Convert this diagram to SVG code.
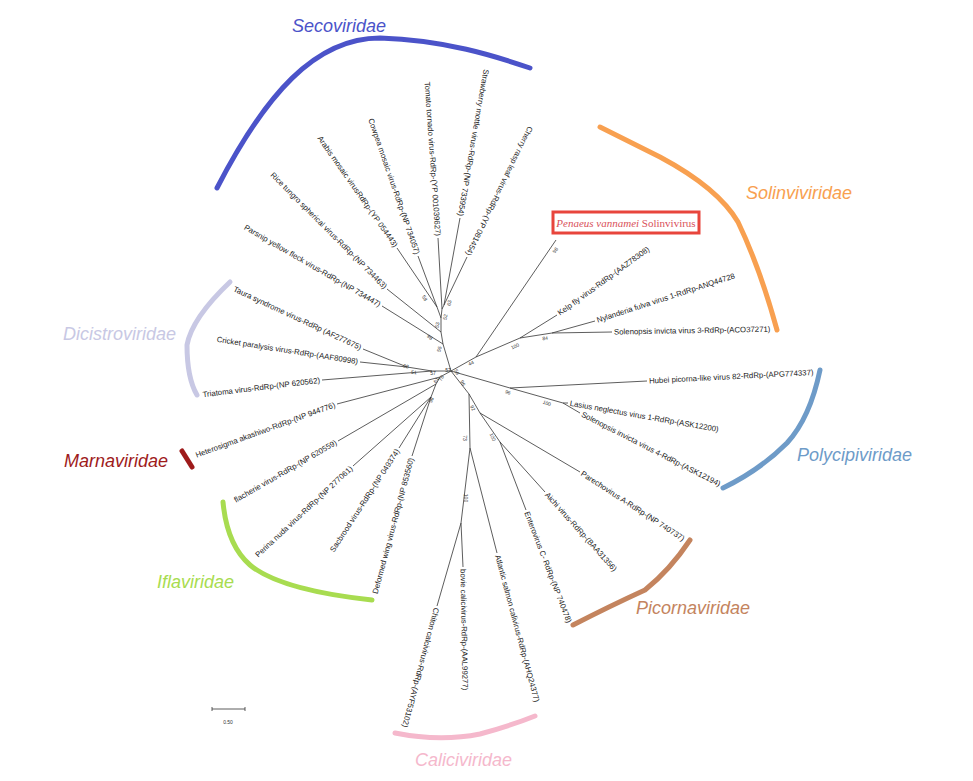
<svg xmlns="http://www.w3.org/2000/svg" width="973" height="781" viewBox="0 0 973 781">
<style>
.leaf{font-family:"Liberation Sans",Arial,sans-serif;font-size:7.8px;fill:#222;dominant-baseline:central}
.bs{font-family:"Liberation Sans",Arial,sans-serif;font-size:5px;fill:#333;text-anchor:middle;dominant-baseline:central}
.fam{font-family:"Liberation Sans",Arial,sans-serif;font-style:italic;font-size:18px}
.arc{fill:none;stroke-width:5;stroke-linecap:round;stroke-linejoin:round}
#connectors line{stroke:#333;stroke-width:0.8}
</style>
<rect width="973" height="781" fill="#fff"/>
<g id="connectors">
<line x1="451" y1="371" x2="443" y2="344"/>
<line x1="443" y1="344" x2="382" y2="306"/>
<line x1="443" y1="344" x2="441" y2="332"/>
<line x1="441" y1="332" x2="387" y2="289"/>
<line x1="441" y1="332" x2="441" y2="318"/>
<line x1="441" y1="318" x2="437" y2="307"/>
<line x1="437" y1="307" x2="397" y2="248"/>
<line x1="437" y1="307" x2="418" y2="256"/>
<line x1="441" y1="318" x2="442" y2="309"/>
<line x1="442" y1="309" x2="438" y2="238"/>
<line x1="442" y1="309" x2="444" y2="305"/>
<line x1="444" y1="305" x2="460" y2="218"/>
<line x1="444" y1="305" x2="467" y2="257"/>
<line x1="451" y1="371" x2="432" y2="371"/>
<line x1="432" y1="371" x2="322" y2="380"/>
<line x1="432" y1="371" x2="407" y2="367"/>
<line x1="407" y1="367" x2="363" y2="349"/>
<line x1="407" y1="367" x2="360" y2="362"/>
<line x1="451" y1="371" x2="440" y2="377"/>
<line x1="440" y1="377" x2="337" y2="404"/>
<line x1="440" y1="377" x2="436" y2="384"/>
<line x1="436" y1="384" x2="338" y2="441"/>
<line x1="436" y1="384" x2="431" y2="397"/>
<line x1="431" y1="397" x2="353" y2="466"/>
<line x1="431" y1="397" x2="399" y2="448"/>
<line x1="431" y1="397" x2="412" y2="456"/>
<line x1="451" y1="371" x2="476" y2="357"/>
<line x1="476" y1="357" x2="556" y2="240"/>
<line x1="476" y1="357" x2="520" y2="338"/>
<line x1="520" y1="338" x2="557" y2="315"/>
<line x1="520" y1="338" x2="552" y2="333"/>
<line x1="552" y1="333" x2="595" y2="321"/>
<line x1="552" y1="333" x2="612" y2="332"/>
<line x1="451" y1="371" x2="510" y2="388"/>
<line x1="510" y1="388" x2="647" y2="381"/>
<line x1="510" y1="388" x2="563" y2="403"/>
<line x1="563" y1="403" x2="568" y2="403"/>
<line x1="563" y1="403" x2="580" y2="413"/>
<line x1="451" y1="371" x2="469" y2="394"/>
<line x1="469" y1="394" x2="470" y2="448"/>
<line x1="469" y1="394" x2="480" y2="413"/>
<line x1="480" y1="413" x2="580" y2="472"/>
<line x1="480" y1="413" x2="500" y2="442"/>
<line x1="500" y1="442" x2="545" y2="492"/>
<line x1="500" y1="442" x2="526" y2="510"/>
<line x1="470" y1="448" x2="497" y2="553"/>
<line x1="470" y1="448" x2="461" y2="523"/>
<line x1="461" y1="523" x2="463" y2="567"/>
<line x1="461" y1="523" x2="437" y2="606"/>
</g>
<g id="bootstrap">
<text class="bs" transform="translate(425,298) rotate(55)">58</text>
<text class="bs" transform="translate(449,303) rotate(-80)">63</text>
<text class="bs" transform="translate(445,317) rotate(-80)">52</text>
<text class="bs" transform="translate(437,325) rotate(-80)">53</text>
<text class="bs" transform="translate(430,337) rotate(40)">98</text>
<text class="bs" transform="translate(439,349) rotate(-75)">55</text>
<text class="bs" transform="translate(406,366) rotate(10)">98</text>
<text class="bs" transform="translate(414,372) rotate(5)">51</text>
<text class="bs" transform="translate(433,373)">57</text>
<text class="bs" transform="translate(448,370)">57</text>
<text class="bs" transform="translate(457,372) rotate(60)">56</text>
<text class="bs" transform="translate(436,380) rotate(-60)">61</text>
<text class="bs" transform="translate(441,378) rotate(-60)">78</text>
<text class="bs" transform="translate(431,400) rotate(-65)">98</text>
<text class="bs" transform="translate(471,363) rotate(-25)">44</text>
<text class="bs" transform="translate(515,346) rotate(-25)">100</text>
<text class="bs" transform="translate(545,338) rotate(-5)">84</text>
<text class="bs" transform="translate(555,250) rotate(-55)">98</text>
<text class="bs" transform="translate(463,383) rotate(60)">96</text>
<text class="bs" transform="translate(473,408) rotate(65)">92</text>
<text class="bs" transform="translate(465,438) rotate(90)">73</text>
<text class="bs" transform="translate(493,437) rotate(65)">100</text>
<text class="bs" transform="translate(466,498) rotate(90)">100</text>
<text class="bs" transform="translate(508,392) rotate(20)">96</text>
<text class="bs" transform="translate(547,403) rotate(20)">100</text>
</g>
<g id="leaf-parsnip"><text class="leaf" text-anchor="end" transform="translate(380,305) rotate(30)">Parsnip yellow fleck virus-RdRp-(NP 734447)</text></g>
<g id="leaf-rice"><text class="leaf" text-anchor="end" transform="translate(385.6,287.6) rotate(45)">Rice tungro spherical virus-RdRp-(NP 734463)</text></g>
<g id="leaf-arabis"><text class="leaf" text-anchor="end" transform="translate(395.9,246.4) rotate(55)">Arabis mosaic virusRdRp-(YP 054443)</text></g>
<g id="leaf-cowpea"><text class="leaf" text-anchor="end" transform="translate(417.3,254.1) rotate(71)">Cowpea mosaic virus-RdRp-(NP 734057)</text></g>
<g id="leaf-tomato"><text class="leaf" text-anchor="end" transform="translate(437.9,236) rotate(86)">Tomato tornado virus-RdRp-(YP 001039627)</text></g>
<g id="leaf-strawberry"><text class="leaf" text-anchor="end" transform="translate(460.3,216) rotate(100)">Strawberry mottle virus-RdRp-(NP 733954)</text></g>
<g id="leaf-cherry"><text class="leaf" text-anchor="end" transform="translate(467.9,255.2) rotate(116)">Cherry rasp leaf virus-RdRp-(YP 081454)</text></g>
<g id="leaf-taura"><text class="leaf" text-anchor="end" transform="translate(361,348) rotate(25)">Taura syndrome virus-RdRp (AF277675)</text></g>
<g id="leaf-cricket"><text class="leaf" text-anchor="end" transform="translate(358,361.7) rotate(9)">Cricket paralysis virus-RdRp-(AAF80998)</text></g>
<g id="leaf-triatoma"><text class="leaf" text-anchor="end" transform="translate(320,380.3) rotate(-7)">Triatoma virus-RdRp-(NP 620562)</text></g>
<g id="leaf-heterosigma"><text class="leaf" text-anchor="end" transform="translate(335,404.7) rotate(-20)">Heterosigma akashiwo-RdRp-(NP 944776)</text></g>
<g id="leaf-flacherie"><text class="leaf" text-anchor="end" transform="translate(336.3,442) rotate(-30)">flacherie virus-RdRp-(NP 620559)</text></g>
<g id="leaf-perina"><text class="leaf" text-anchor="end" transform="translate(351.5,467.4) rotate(-43)">Perina nuda virus-RdRp-(NP 277061)</text></g>
<g id="leaf-sacbrood"><text class="leaf" text-anchor="end" transform="translate(397.9,449.7) rotate(-57)">Sacbrood virus-RdRp-(NP 049374)</text></g>
<g id="leaf-dwv"><text class="leaf" text-anchor="end" transform="translate(411.5,458) rotate(-75)">Deformed wing virus-RdRp-(NP 853560)</text></g>
<g id="leaf-kelp"><text class="leaf" transform="translate(558.6,313.8) rotate(-36)">Kelp fly virus-RdRp-(AAZ78308)</text></g>
<g id="leaf-nylanderia"><text class="leaf" transform="translate(597,320.4) rotate(-18)">Nylanderia fulva virus 1-RdRp-ANQ44728</text></g>
<g id="leaf-sol3"><text class="leaf" transform="translate(614,332) rotate(-1)">Solenopsis invicta virus 3-RdRp-(ACO37271)</text></g>
<g id="leaf-hubei"><text class="leaf" transform="translate(649,381) rotate(-3)">Hubei picorna-like virus 82-RdRp-(APG774337)</text></g>
<g id="leaf-lasius"><text class="leaf" transform="translate(570,403.3) rotate(10)">Lasius neglectus virus 1-RdRp-(ASK12200)</text></g>
<g id="leaf-sol4"><text class="leaf" transform="translate(581.8,414) rotate(27)">Solenopsis invicta virus 4-RdRp-(ASK12194)</text></g>
<g id="leaf-parecho"><text class="leaf" transform="translate(581.7,473) rotate(33)">Parechovirus A-RdRp-(NP 740737)</text></g>
<g id="leaf-aichi"><text class="leaf" transform="translate(546.3,493.5) rotate(48)">Aichi virus-RdRp-(BAA31356)</text></g>
<g id="leaf-entero"><text class="leaf" transform="translate(526.7,511.9) rotate(69)">Enterovirus C- RdRp-(NP 740478)</text></g>
<g id="leaf-atlantic"><text class="leaf" transform="translate(497.5,555) rotate(75)">Atlantic salmon calivirus-RdRp-(AHQ24377)</text></g>
<g id="leaf-bovie"><text class="leaf" transform="translate(463,569) rotate(89)">bovie calicivirus-RdRp-(AAL99277)</text></g>
<g id="leaf-chiton"><text class="leaf" transform="translate(436.5,608) rotate(105)">Chiton calcivirus-RdRp-(AYF53102)</text></g>
<g id="leaf-penaeus">
<rect x="553" y="212" width="146" height="21" fill="#fff" stroke="#e8453c" stroke-width="3"/>
<text x="626" y="226.5" text-anchor="middle" font-family="'Liberation Serif','Times New Roman',serif" font-size="11" fill="#d9505a"><tspan font-style="italic">Penaeus vannamei</tspan> Solinvivirus</text>
</g>
<g id="fam-secoviridae"><path class="arc" stroke="#4b53c9" d="M217,188 C265,95 315,38 380,38 C445,40 495,56 530,68"/><text class="fam" x="292" y="32" fill="#4b53c9">Secoviridae</text></g>
<g id="fam-solinviviridae"><path class="arc" stroke="#f8a050" d="M600,127 L660,157 Q718,188 738,222 Q760,268 777,330"/><text class="fam" x="746" y="199" fill="#f8a050">Solinviviridae</text></g>
<g id="fam-dicistroviridae"><path class="arc" stroke="#c8c8e4" d="M230,282 Q192,318 187,345 Q187,378 197,395"/><text class="fam" x="63" y="340" fill="#c8c8e4">Dicistroviridae</text></g>
<g id="fam-marnaviridae"><path class="arc" stroke="#9e1b1b" d="M182,451 L192,467"/><text class="fam" x="64" y="467" fill="#9e1b1b">Marnaviridae</text></g>
<g id="fam-iflaviridae"><path class="arc" stroke="#a8dc50" d="M223,502 Q227,545 250,565 Q280,590 372,600"/><text class="fam" x="157" y="588" font-size="19" fill="#a8dc50">Iflaviridae</text></g>
<g id="fam-polycipiviridae"><path class="arc" stroke="#6e9bc8" d="M820,370 Q810,418 787,443 Q760,470 723,488"/><text class="fam" x="797" y="461" font-size="19" fill="#6e9bc8">Polycipiviridae</text></g>
<g id="fam-picornaviridae"><path class="arc" stroke="#c4845e" d="M690,540 Q670,570 645,590 Q610,606 573,625"/><text class="fam" x="636" y="614" font-size="19" fill="#c4845e">Picornaviridae</text></g>
<g id="fam-caliciviridae"><path class="arc" stroke="#f5b8cc" d="M395,733 Q440,742 480,734 Q510,726 535,716"/><text class="fam" x="415" y="766" font-size="19" fill="#f5b8cc">Caliciviridae</text></g>
<g id="scale">
<path d="M212,709 H245 M212,707 V711 M245,707 V711" stroke="#333" stroke-width="0.8" fill="none"/>
<text x="228" y="724" text-anchor="middle" font-family="'Liberation Sans',Arial,sans-serif" font-size="5" fill="#333">0.50</text>
</g>
</svg>
